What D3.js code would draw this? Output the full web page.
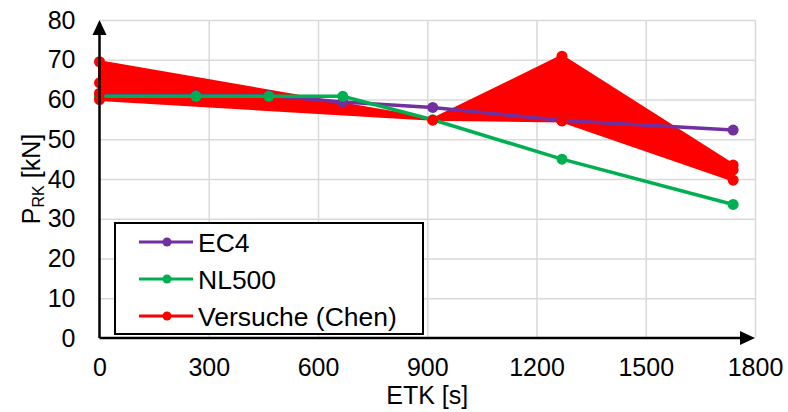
<!DOCTYPE html>
<html>
<head>
<meta charset="utf-8">
<script src="https://cdn.jsdelivr.net/npm/d3@7"></script>
<style>
  body { margin: 0; background: #fff; }
  text { font-family: "Liberation Sans", Arial, sans-serif; fill: #000; }
</style>
</head>
<body>
<div id="chart"></div>
<script>
// ETK [s] and P_RK [kN]
var etk = [0, 265, 465, 668, 915, 1270, 1740];
var ec4 = [61, 61, 61, 59.4, 58, 54.7, 52.3];
var nl500 = [60.8, 60.8, 60.8, 60.8, 54.9, 45.0, 33.6];

// Versuche (Chen): band between highest and lowest test, plus single tests
var chenEtk = [0, 915, 1270, 1740];
var chenUpper = [69.5, 55, 70.9, 43.5];
var chenLower = [60, 55, 54.6, 39.7];
var chenPtEtk = [0, 0, 0, 0, 915, 1270, 1270, 1740, 1740, 1740];
var chenPtVal = [69.5, 64.2, 61.6, 60.0, 54.8, 70.9, 54.6, 43.5, 42.3, 39.7];

var xTicks = [0, 300, 600, 900, 1200, 1500, 1800];
var yTicks = [0, 10, 20, 30, 40, 50, 60, 70, 80];
var legendNames = ["EC4", "NL500", "Versuche (Chen)"];

var colors = { ec4: "#7030A0", nl: "#00B050", chen: "#FF0000" };

var W = 788, H = 412;
var margin = { top: 20, right: 33, bottom: 74, left: 99.5 };
var width = W - margin.left - margin.right,
    height = H - margin.top - margin.bottom;

var x = d3.scaleLinear().domain([0, 1800]).range([0, width]);
var y = d3.scaleLinear().domain([0, 80]).range([height, 0]);

var svg = d3.select("#chart").append("svg")
    .attr("width", W)
    .attr("height", H)
  .append("g")
    .attr("transform", "translate(" + margin.left + "," + margin.top + ")");

// grid
svg.append("g")
    .attr("class", "gridY")
    .call(d3.axisLeft(y).tickValues(yTicks.slice(1)).tickSize(-width).tickFormat(""))
    .call(function(g){ g.select(".domain").remove(); })
    .selectAll("line").attr("stroke", "#d9d9d9").attr("stroke-width", 1.5);

svg.append("g")
    .attr("class", "gridX")
    .attr("transform", "translate(0," + height + ")")
    .call(d3.axisBottom(x).tickValues(xTicks.slice(1)).tickSize(-height).tickFormat(""))
    .call(function(g){ g.select(".domain").remove(); })
    .selectAll("line").attr("stroke", "#d9d9d9").attr("stroke-width", 1.5);

// tick labels
var yAx = svg.append("g")
    .call(d3.axisLeft(y).tickValues(yTicks).tickSize(0).tickPadding(24));
yAx.select(".domain").remove();
yAx.selectAll("text").style("font-size", "25px").attr("font-family", null);

var xAx = svg.append("g")
    .attr("transform", "translate(0," + height + ")")
    .call(d3.axisBottom(x).tickValues(xTicks).tickSize(0).tickPadding(20).tickFormat(d3.format("d")));
xAx.select(".domain").remove();
xAx.selectAll("text").style("font-size", "25px").attr("font-family", null);

// Versuche band
var area = d3.area()
    .x(function(d, i){ return x(chenEtk[i]); })
    .y0(function(d, i){ return y(chenLower[i]); })
    .y1(function(d, i){ return y(chenUpper[i]); });
svg.append("path")
    .datum(chenEtk)
    .attr("d", area)
    .attr("fill", colors.chen)
    .attr("stroke", colors.chen)
    .attr("stroke-width", 3)
    .attr("stroke-linejoin", "round");

function drawSeries(vals, col){
  var line = d3.line()
      .x(function(d, i){ return x(etk[i]); })
      .y(function(d){ return y(d); });
  svg.append("path")
      .datum(vals)
      .attr("d", line)
      .attr("fill", "none")
      .attr("stroke", col)
      .attr("stroke-width", 3.5);
  svg.append("g").selectAll("circle")
      .data(vals)
      .enter().append("circle")
      .attr("cx", function(d, i){ return x(etk[i]); })
      .attr("cy", function(d){ return y(d); })
      .attr("r", 5.5)
      .attr("fill", col);
}
drawSeries(ec4, colors.ec4);
drawSeries(nl500, colors.nl);

svg.append("g").selectAll("circle")
    .data(chenPtVal)
    .enter().append("circle")
    .attr("cx", function(d, i){ return x(chenPtEtk[i]); })
    .attr("cy", function(d){ return y(d); })
    .attr("r", 5.5)
    .attr("fill", colors.chen);

// legend
var lg = svg.append("g").attr("transform", "translate(" + (115 - margin.left) + "," + (223 - margin.top) + ")");
lg.append("rect")
    .attr("width", 308).attr("height", 111)
    .attr("fill", "#fff").attr("stroke", "#000").attr("stroke-width", 2);
var lgCol = [colors.ec4, colors.nl, colors.chen];
legendNames.forEach(function(n, i){
  var ly = 19 + i * 37;
  lg.append("line").attr("x1", 24).attr("x2", 78).attr("y1", ly).attr("y2", ly)
      .attr("stroke", lgCol[i]).attr("stroke-width", 3);
  lg.append("circle").attr("cx", 52).attr("cy", ly).attr("r", 4.5).attr("fill", lgCol[i]);
  lg.append("text").attr("x", 83).attr("y", ly).attr("dy", "0.36em")
      .style("font-size", "26.5px").text(n);
});

// axes with arrows
svg.append("line").attr("x1", 0).attr("x2", 0).attr("y1", height).attr("y2", 12)
    .attr("stroke", "#000").attr("stroke-width", 2.5);
svg.append("path").attr("d", "M0,0 L-7,15 L7,15 Z").attr("fill", "#000");
svg.append("line").attr("x1", 0).attr("x2", width - 10).attr("y1", height).attr("y2", height)
    .attr("stroke", "#000").attr("stroke-width", 2.5);
svg.append("path")
    .attr("d", "M" + width + "," + height + " L" + (width - 15) + "," + (height - 7) + " L" + (width - 15) + "," + (height + 7) + " Z")
    .attr("fill", "#000");

// axis titles
svg.append("text")
    .attr("x", width / 2).attr("y", height + 66)
    .attr("text-anchor", "middle")
    .style("font-size", "25px")
    .text("ETK [s]");

var yt = svg.append("text")
    .attr("transform", "translate(" + (40 - margin.left) + "," + (height / 2) + ") rotate(-90)")
    .attr("text-anchor", "middle")
    .style("font-size", "25px");
yt.append("tspan").text("P");
yt.append("tspan").attr("dy", 4).style("font-size", "16px").text("RK");
yt.append("tspan").attr("dy", -4).text(" [kN]");
</script>
</body>
</html>
